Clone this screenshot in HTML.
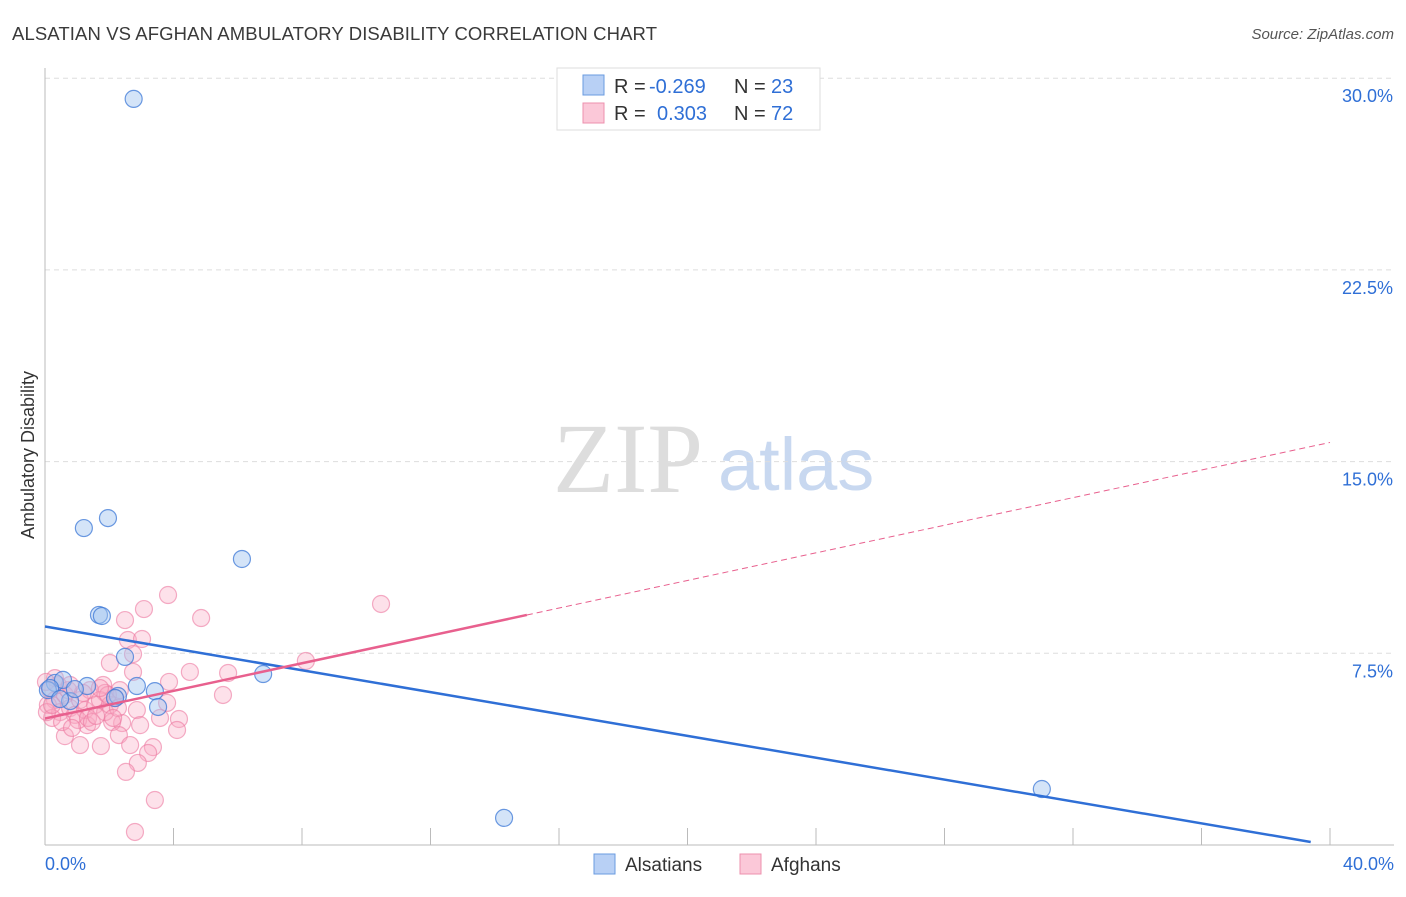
<!DOCTYPE html>
<html><head><meta charset="utf-8"><style>
body{margin:0;background:#fff;font-family:"Liberation Sans",sans-serif;}
svg text{font-family:"Liberation Sans",sans-serif;}
</style></head><body>
<svg id="c" width="1406" height="892" xmlns="http://www.w3.org/2000/svg">
<text x="12" y="40" font-size="18.5" fill="#3a3a3a" textLength="645">ALSATIAN VS AFGHAN AMBULATORY DISABILITY CORRELATION CHART</text>
<text x="1394" y="39" font-size="15" fill="#555" text-anchor="end" font-style="italic">Source: ZipAtlas.com</text>
<text x="34" y="455" font-size="18" fill="#333" text-anchor="middle" transform="rotate(-90 34 455)">Ambulatory Disability</text>
<g><text x="553" y="492" font-size="100" fill="#ddd" style="font-family:'Liberation Serif',serif">ZIP</text><text x="718" y="490" font-size="74" fill="#c8d8f0">atlas</text></g>
<g id="grid"></g><g id="pts"></g><g id="lines"></g>
<g>
<rect x="557" y="68" width="263" height="62" fill="#fff" stroke="#ddd"/>
<rect x="583" y="75" width="21" height="20" fill="#b8d0f5" stroke="#6a9be0"/>
<rect x="583" y="103" width="21" height="20" fill="#fbc8d8" stroke="#ec90ae"/>
<text x="614" y="93" font-size="20" fill="#333">R =</text>
<text x="649" y="93" font-size="20" fill="#2f6fd6">-0.269</text>
<text x="734" y="93" font-size="20" fill="#333">N =</text>
<text x="771" y="93" font-size="20" fill="#2f6fd6">23</text>
<text x="614" y="120" font-size="20" fill="#333">R =</text>
<text x="657" y="120" font-size="20" fill="#2f6fd6">0.303</text>
<text x="734" y="120" font-size="20" fill="#333">N =</text>
<text x="771" y="120" font-size="20" fill="#2f6fd6">72</text>
</g>
<g>
<rect x="594" y="854" width="21" height="20" fill="#b8d0f5" stroke="#6a9be0"/>
<text x="625" y="871" font-size="19" fill="#333">Alsatians</text>
<rect x="740" y="854" width="21" height="20" fill="#fbc8d8" stroke="#ec90ae"/>
<text x="771" y="871" font-size="19" fill="#333">Afghans</text>
</g>
</svg>
<script>
const yTicks=[7.5,15,22.5,30];
const yTickLabels=["7.5%","15.0%","22.5%","30.0%"];
const xTickLabels=["0.0%","40.0%"];
const alsX=[2.76,1.21,1.96,6.13,1.68,1.77,2.49,6.79,2.86,3.42,2.27,3.52,0.31,0.56,1.31,0.78,0.09,14.29,31.03,0.16,0.47,0.93,2.18];
const alsY=[29.19,12.4,12.79,11.19,9.0,8.96,7.36,6.69,6.22,6.02,5.83,5.4,6.34,6.46,6.22,5.63,6.06,1.06,2.19,6.14,5.71,6.1,5.75];
const afgPx=[[168,595],[144,609],[201,618],[125,620],[128,640],[142,639],[133,654],[110,663],[190,672],[228,673],[133,672],[306,661],[381,604],[169,682],[223,695],[103,685],[167,703],[105,693],[137,710],[160,718],[179,719],[177,730],[140,725],[122,723],[112,722],[87,725],[65,736],[80,745],[101,746],[119,735],[130,745],[153,747],[148,753],[138,763],[126,772],[155,800],[135,832],[50,690],[55,700],[48,705],[60,712],[52,718],[65,695],[70,708],[75,715],[80,700],[85,710],[90,690],[95,705],[100,700],[105,712],[110,705],[115,698],[118,708],[58,685],[68,690],[78,720],[88,718],[62,722],[72,728],[92,722],[108,695],[100,688],[55,678],[47,712],[83,693],[113,718],[120,690],[46,682],[52,705],[70,685],[96,716]];
const afgX=afgPx.map(p=>+((p[0]-45)/32.125).toFixed(2));
const afgY=afgPx.map(p=>+((845-p[1])/25.56).toFixed(2));
const alsTrend=[8.55,-0.214];
const afgTrend=[4.95,0.27];
const afgSolidEnd=15;

const X=v=>45+v*32.125, Y=v=>845-v*25.56;
const NS="http://www.w3.org/2000/svg";
function mk(tag,attrs,parent){const e=document.createElementNS(NS,tag);for(const k in attrs)e.setAttribute(k,attrs[k]);parent.appendChild(e);return e;}
const grid=document.getElementById('grid');
yTicks.forEach((t,i)=>{
 const l=mk('line',{x1:45,x2:1394,y1:Y(t),y2:Y(t),stroke:'#ddd','stroke-dasharray':'5,4'},grid);
 
 
 const tx=mk('text',{x:1393,y:Y(t)+24,'font-size':18,fill:'#2f6fd6','text-anchor':'end'},grid);
 tx.textContent=yTickLabels[i];
 
 
});
const ax=mk('line',{x1:45,x2:45,y1:68,y2:845,stroke:'#bbb'},grid);


const bx=mk('line',{x1:45,x2:1394,y1:845,y2:845,stroke:'#bbb'},grid);


for(let i=0;i<=10;i++){const t=mk('line',{x1:X(i*4),x2:X(i*4),y1:828,y2:845,stroke:'#bbb'},grid);
 
 }
[[0,45,'start'],[40,1394,'end']].forEach((d,i)=>{const t=mk('text',{x:d[1],y:870,'font-size':18,fill:'#2f6fd6','text-anchor':d[2]},grid);t.textContent=xTickLabels[i];
 
 });
const pts=document.getElementById('pts');
afgX.forEach((x,i)=>{const c=mk('circle',{cx:X(x),cy:Y(afgY[i]),r:8.5,fill:'rgba(248,170,196,0.35)',stroke:'rgba(236,120,160,0.6)','stroke-width':1.2},pts);
 
 });
alsX.forEach((x,i)=>{const c=mk('circle',{cx:X(x),cy:Y(alsY[i]),r:8.5,fill:'rgba(160,195,240,0.45)',stroke:'rgba(60,120,215,0.75)','stroke-width':1.2},pts);
 
 });
const lines=document.getElementById('lines');
let l1=mk('line',{x1:X(0),y1:Y(alsTrend[0]),x2:X(39.4),y2:Y(alsTrend[0]+alsTrend[1]*39.4),stroke:'#2f6fd6','stroke-width':2.5},lines);


let l2=mk('line',{x1:X(0),y1:Y(afgTrend[0]),x2:X(afgSolidEnd),y2:Y(afgTrend[0]+afgTrend[1]*afgSolidEnd),stroke:'#e8608e','stroke-width':2.5},lines);


let l3=mk('line',{x1:X(afgSolidEnd),y1:Y(afgTrend[0]+afgTrend[1]*afgSolidEnd),x2:X(40),y2:Y(afgTrend[0]+afgTrend[1]*40),stroke:'#e8608e','stroke-width':1,'stroke-dasharray':'6,4'},lines);


</script>
</body></html>
